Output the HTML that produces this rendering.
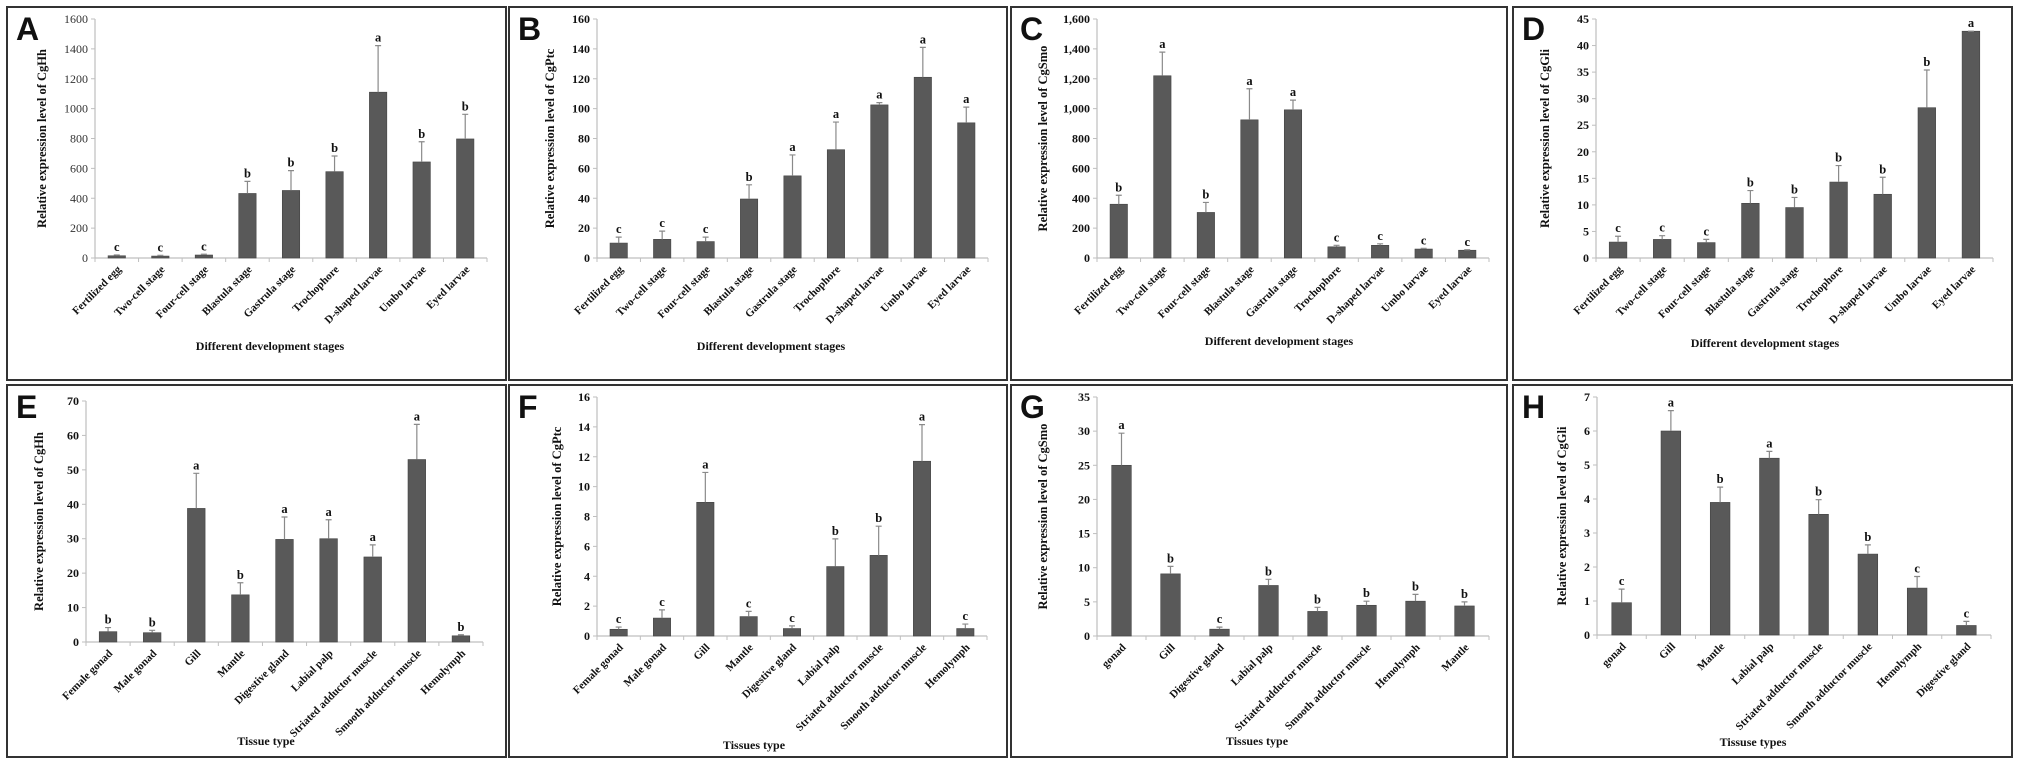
<!DOCTYPE html>
<html><head><meta charset="utf-8">
<style>
html,body{margin:0;padding:0;background:#fff;}
svg{display:block;}
text{font-family:"Liberation Serif",serif;font-weight:bold;fill:#111;}
.lt{font-family:"Liberation Sans",sans-serif;font-weight:bold;}
</style></head>
<body>
<svg id="fig" width="2020" height="766" viewBox="0 0 2020 766" xmlns="http://www.w3.org/2000/svg"></svg>
<script>
const devCats = ["Fertilized egg","Two-cell stage","Four-cell stage","Blastula stage","Gastrula stage","Trochophore","D-shaped larvae","Umbo larvae","Eyed larvae"];
const tisCatsEF = ["Female gonad","Male gonad","Gill","Mantle","Digestive gland","Labial palp","Striated adductor muscle","Smooth adductor muscle","Hemolymph"];
const tisCatsG = ["gonad","Gill","Digestive gland","Labial palp","Striated adductor muscle","Smooth adductor muscle","Hemolymph","Mantle"];
const tisCatsH = ["gonad","Gill","Mantle","Labial palp","Striated adductor muscle","Smooth adductor muscle","Hemolymph","Digestive gland"];

const valsA = [15,13,20,432,452,578,1110,643,797];
const errTopA = [20,18,25,513,585,683,1422,778,962];
const letA = ["c","c","c","b","b","b","a","b","b"];
const ticksA = [0,200,400,600,800,1000,1200,1400,1600];

const valsB = [10,12.5,11,39.5,55,72.5,102.5,121,90.5];
const errTopB = [14,18,14,49,69,91,104,141,101];
const letB = ["c","c","c","b","a","a","a","a","a"];
const ticksB = [0,20,40,60,80,100,120,140,160];

const valsC = [360,1220,305,925,992,75,85,60,52];
const errTopC = [420,1378,372,1133,1057,85,95,65,55];
const letC = ["b","a","b","a","a","c","c","c","c"];
const ticksC = [0,200,400,600,800,1000,1200,1400,1600];

const valsD = [3,3.5,2.9,10.3,9.5,14.3,12,28.3,42.7];
const errTopD = [4.1,4.2,3.5,12.7,11.4,17.4,15.2,35.4,42.7];
const letD = ["c","c","c","b","b","b","b","b","a"];
const ticksD = [0,5,10,15,20,25,30,35,40,45];

const valsE = [3,2.7,38.8,13.7,29.8,30,24.7,53,1.8];
const errTopE = [4.2,3.4,49,17.2,36.3,35.5,28.2,63.2,2.1];
const letE = ["b","b","a","b","a","a","a","a","b"];
const ticksE = [0,10,20,30,40,50,60,70];

const valsF = [0.45,1.2,8.95,1.3,0.5,4.65,5.4,11.7,0.5];
const errTopF = [0.6,1.75,10.95,1.65,0.68,6.5,7.35,14.15,0.8];
const letF = ["c","c","a","c","c","b","b","a","c"];
const ticksF = [0,2,4,6,8,10,12,14,16];

const valsG = [25,9.1,1,7.4,3.6,4.5,5.1,4.4];
const errTopG = [29.7,10.2,1.3,8.3,4.2,5.1,6.1,5.0];
const letG = ["a","b","c","b","b","b","b","b"];
const ticksG = [0,5,10,15,20,25,30,35];

const valsH = [0.95,6,3.9,5.2,3.55,2.38,1.38,0.28];
const errTopH = [1.35,6.6,4.35,5.4,3.98,2.65,1.72,0.4];
const letH = ["c","a","b","a","b","b","c","c"];
const ticksH = [0,1,2,3,4,5,6,7];

const NS = "http://www.w3.org/2000/svg";
const svg = document.getElementById("fig");
function mk(tag, attrs, parent){
  const e = document.createElementNS(NS, tag);
  for (const k in attrs) e.setAttribute(k, attrs[k]);
  (parent||svg).appendChild(e);
  return e;
}
function fmt(v, comma){ return comma ? v.toLocaleString("en-US") : String(v); }

function panel(p){
  const g = mk("g", {});
  
  
  const box = mk("rect", {x:p.bx, y:p.by, width:p.bw, height:p.bh, fill:"none", stroke:"#333", "stroke-width":2}, g);
  
  
  const lt = mk("text", {x:p.bx+9, y:p.by+33, "font-size":32, class:"lt"}, g);
  lt.textContent = p.id;
  
  
  const ymax = p.ticks[p.ticks.length-1];
  const ys = v => p.B - (v/ymax)*(p.B-p.T);
  const n = p.cats.length;
  const band = (p.R-p.L)/n;
  const xs = i => p.L + band*(i+0.5);
  const ya = mk("line", {x1:p.L, y1:p.T, x2:p.L, y2:p.B, stroke:"#bfbfbf", "stroke-width":1.2}, g);
  
  
  p.ticks.forEach(t=>{
    const y = ys(t);
    mk("line", {x1:p.L-4, y1:y, x2:p.L, y2:y, stroke:"#bfbfbf", "stroke-width":1}, g);
    const tl = mk("text", {x:p.L-7, y:y+4, "font-size":12, "text-anchor":"end", style: p.thin ? "font-weight:normal;fill:#333" : ""}, g);
    tl.textContent = fmt(t, p.comma);
    
    
  });
  const xa = mk("line", {x1:p.L, y1:p.B, x2:p.R, y2:p.B, stroke:"#bfbfbf", "stroke-width":1.2}, g);
  
  
  for (let i=0;i<=n;i++){
    const x = p.L + band*i;
    mk("line", {x1:x, y1:p.B, x2:x, y2:p.B+4, stroke:"#bfbfbf", "stroke-width":1}, g);
  }
  const bw = band*0.4;
  p.cats.forEach((c,i)=>{
    const x = xs(i);
    const bar = mk("rect", {x:x-bw/2, y:ys(p.vals[i]), width:bw, height:p.B-ys(p.vals[i]), fill:"#595959", stroke:"#444", "stroke-width":0.6}, g);
    
    
    const ey = ys(p.err[i]);
    const eb = mk("path", {d:`M${x} ${ys(p.vals[i])}V${ey}M${x-3} ${ey}H${x+3}`, stroke:"#8a8a8a", "stroke-width":1.2, fill:"none"}, g);
    
    
    const sl = mk("text", {x:x, y:ey-4, "font-size":12.5, "text-anchor":"middle"}, g);
    sl.textContent = p.lets[i];
    
    
    const tx = x+5, ty = p.B+12;
    const xl = mk("text", {x:tx, y:ty, "font-size":11, "text-anchor":"end", transform:`rotate(-45 ${tx} ${ty})`}, g);
    xl.textContent = c;
    
    
  });
  const cy = (p.T+p.B)/2;
  const yt = mk("text", {x:p.ytx, y:cy, "font-size":12.5, "text-anchor":"middle", transform:`rotate(-90 ${p.ytx} ${cy})`}, g);
  yt.textContent = p.ytitle;
  
  
  const xt = mk("text", {x:p.xtx, y:p.xty, "font-size":12, "text-anchor":"middle"}, g);
  xt.textContent = p.xtitle;
  
  
}

const R1 = {by:7, bh:373}, R2 = {by:385, bh:372};
panel({id:"A", bx:7, bw:499, ...R1, L:95, T:19, B:258, R:487, cats:devCats, vals:valsA, err:errTopA, lets:letA, ticks:ticksA, thin:true, ytitle:"Relative expression level of CgHh", ytx:46, xtitle:"Different development stages", xtx:270, xty:350});
panel({id:"B", bx:509, bw:498, ...R1, L:597, T:19, B:258, R:988, cats:devCats, vals:valsB, err:errTopB, lets:letB, ticks:ticksB, ytitle:"Relative expression level of CgPtc", ytx:554, xtitle:"Different development stages", xtx:771, xty:350});
panel({id:"C", bx:1011, bw:496, ...R1, L:1097, T:19, B:258, R:1489, cats:devCats, vals:valsC, err:errTopC, lets:letC, ticks:ticksC, comma:true, ytitle:"Relative expression level of CgSmo", ytx:1047, xtitle:"Different development stages", xtx:1279, xty:345});
panel({id:"D", bx:1513, bw:499, ...R1, L:1596, T:19, B:258, R:1993, cats:devCats, vals:valsD, err:errTopD, lets:letD, ticks:ticksD, ytitle:"Relative expression level of CgGli", ytx:1549, xtitle:"Different development stages", xtx:1765, xty:347});
panel({id:"E", bx:7, bw:499, ...R2, L:86, T:401, B:642, R:483, cats:tisCatsEF, vals:valsE, err:errTopE, lets:letE, ticks:ticksE, ytitle:"Relative expression level of CgHh", ytx:43, xtitle:"Tissue type", xtx:266, xty:745});
panel({id:"F", bx:509, bw:498, ...R2, L:597, T:397, B:636, R:987, cats:tisCatsEF, vals:valsF, err:errTopF, lets:letF, ticks:ticksF, ytitle:"Relative expression level of CgPtc", ytx:561, xtitle:"Tissues type", xtx:754, xty:749});
panel({id:"G", bx:1011, bw:496, ...R2, L:1097, T:397, B:636, R:1489, cats:tisCatsG, vals:valsG, err:errTopG, lets:letG, ticks:ticksG, ytitle:"Relative expression level of CgSmo", ytx:1047, xtitle:"Tissues type", xtx:1257, xty:745});
panel({id:"H", bx:1513, bw:499, ...R2, L:1597, T:397, B:635, R:1991, cats:tisCatsH, vals:valsH, err:errTopH, lets:letH, ticks:ticksH, ytitle:"Relative expression level of CgGli", ytx:1566, xtitle:"Tissuse types", xtx:1753, xty:746});
</script>
</body></html>
